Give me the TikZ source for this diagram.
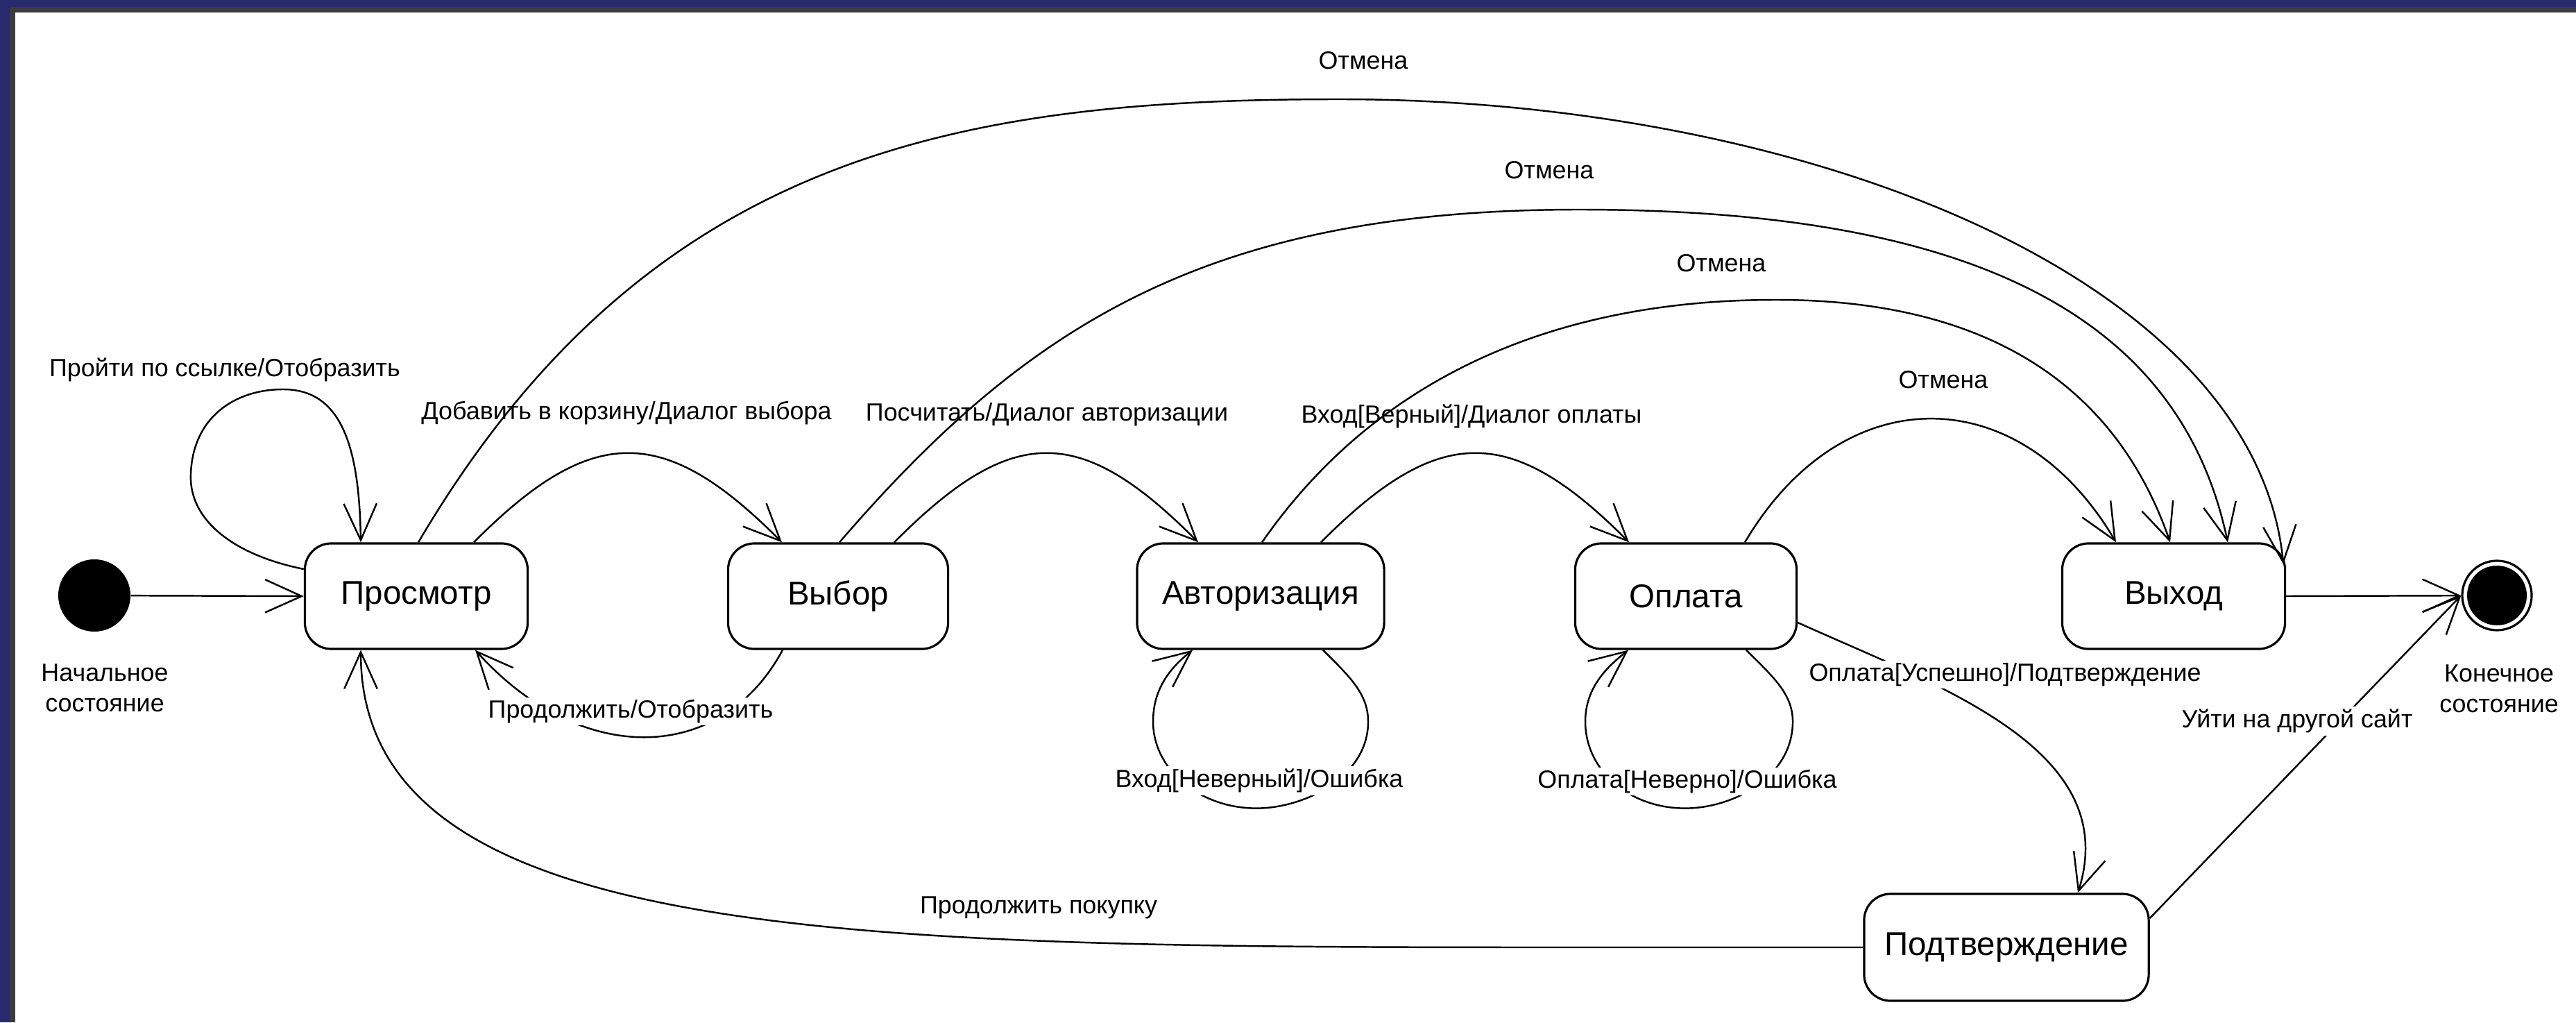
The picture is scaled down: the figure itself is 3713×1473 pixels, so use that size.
\documentclass[tikz,border=0pt]{standalone}
\usepackage{fontspec}
\setmainfont{Liberation Sans}
\usetikzlibrary{arrows.meta,calc}
\definecolor{navy}{RGB}{39,43,110}
\definecolor{frameline}{RGB}{60,60,60}
\tikzset{
  state/.style={draw, rounded corners=0.38cm, minimum height=1.52cm, line width=0.9pt,
    font=\fontsize{13.5}{16}\selectfont, inner sep=0pt},
  lbl/.style={font=\fontsize{10.2}{12.5}\selectfont, fill=white, inner sep=1pt},
  plainlbl/.style={font=\fontsize{10.2}{12.5}\selectfont, inner sep=1pt, align=center},
  tr/.style={line width=0.7pt, -{Straight Barb[length=15pt,width=13.5pt,line width=0.7pt]}},
}
\begin{document}
\begin{tikzpicture}[x=0.01cm, y=-0.01cm]
\useasboundingbox (0,0) rectangle (3713,1473);
% background and frame
\fill[white] (0,0) rectangle (3713,1473);
\fill[navy] (0,0) rectangle (3713,10);
\fill[navy] (0,0) rectangle (14,1473);
\draw[frameline, line width=2.2pt] (18,1473) -- (18,14) -- (3713,14);

% states
\node[circle, fill=black, minimum size=1.04cm, inner sep=0pt] (init) at (136,858) {};
\node[state, minimum width=3.21cm] (prosm) at (600,859) {Просмотр};
\node[state, minimum width=3.17cm] (vybor) at (1208,859) {Выбор};
\node[state, minimum width=3.56cm] (avtor) at (1817,859) {Авторизация};
\node[state, minimum width=3.19cm] (oplata) at (2430,859) {Оплата};
\node[state, minimum width=3.21cm] (vyhod) at (3133,859) {Выход};
\node[state, minimum width=4.10cm, minimum height=1.54cm] (podtv) at (2892,1365) {Подтверждение};
\node[circle, draw, line width=0.9pt, minimum size=1.0cm, inner sep=0pt] (fin) at (3599,858) {};
\fill (fin.center) circle[radius=0.43cm];

\node[plainlbl] (initlbl) at (151,991) {Начальное\\состояние};
\node[plainlbl] (finlbl) at (3602,992) {Конечное\\состояние};

% short transitions
\draw[tr] (init) -- (prosm.west);
\draw[tr] ($(prosm.west)+(0,-39)$) .. controls +(-100,-20) and +(-3,67) .. (275,683)
   .. controls +(3,-83) and +(-68,0) .. (408,561)
   .. controls +(82,0) and +(-2,-143) .. ($(prosm.north)+(-80,0)$);
\draw[tr] ($(prosm.north)+(83,0)$) .. controls +(170,-171) and +(-170,-171) .. ($(vybor.north)+(-81,0)$);
\draw[tr] ($(vybor.south)+(-80,0)$) .. controls +(-90,167) and +(150,167) .. ($(prosm.south)+(85,0)$);
\draw[tr] ($(vybor.north)+(81,0)$) .. controls +(170,-171) and +(-170,-171) .. ($(avtor.north)+(-90,0)$);
\draw[tr] ($(avtor.south)+(90,0)$) .. controls +(38,38) and +(0,-40) .. ($(avtor.south)+(155,103)$)
   .. controls +(0,80) and +(69,0) .. ($(avtor.south)+(-6,228)$)
   .. controls +(-81,0) and +(0,70) .. ($(avtor.south)+(-155,103)$)
   .. controls +(0,-50) and +(-29,23) .. ($(avtor.south)+(-98,0)$);
\draw[tr] ($(avtor.north)+(87,0)$) .. controls +(170,-171) and +(-170,-171) .. ($(oplata.north)+(-82,0)$);
\draw[tr] ($(oplata.south)+(87,0)$) .. controls +(38,38) and +(0,-40) .. ($(oplata.south)+(154,103)$)
   .. controls +(0,80) and +(69,0) .. ($(oplata.south)+(-1,228)$)
   .. controls +(-81,0) and +(0,70) .. ($(oplata.south)+(-145,103)$)
   .. controls +(0,-50) and +(-29,23) .. ($(oplata.south)+(-83,0)$);
\draw[tr] ($(oplata.north)+(85,0)$) .. controls +(140,-237) and +(-140,-237) .. ($(vyhod.north)+(-83,0)$);
\draw[tr] (vyhod.east) -- (fin);
\draw[tr] ($(oplata.east)+(0,38)$) .. controls +(206,93) and +(65,-207) .. ($(podtv.north)+(103,0)$);
\draw[tr] ($(podtv.east)+(0,-42)$) -- (fin.west);
\draw[tr] (podtv.west) -- ++(-372,0) .. controls +(-1065,0) and +(0,430) .. ($(prosm.south)+(-80,0)$);

% labels
\node[lbl] (l1) at (324,533) {Пройти по ссылке/Отобразить};
\node[lbl] (l2) at (903,595) {Добавить в корзину/Диалог выбора};
\node[lbl] (l3) at (1509,597) {Посчитать/Диалог авторизации};
\node[lbl] (l4) at (2121,600) {Вход[Верный]/Диалог оплаты};
\node[lbl] (l5) at (909,1025) {Продолжить/Отобразить};
\node[lbl] (l6) at (1815,1125) {Вход[Неверный]/Ошибка};
\node[lbl] (l7) at (2432,1126) {Оплата[Неверно]/Ошибка};
\node[lbl] (l8) at (2890,972) {Оплата[Успешно]/Подтверждение};
\node[lbl] (l9) at (3311,1039) {Уйти на другой сайт};
\node[lbl] (l10) at (1497,1308) {Продолжить покупку};
\node[lbl] (c1) at (2801,547) {Отмена};
\node[lbl] (c2) at (2481,379) {Отмена};
\node[lbl] (c3) at (2233,245) {Отмена};
\node[lbl] (c4) at (1965,87) {Отмена};

% long cancel transitions
\draw[tr] ($(avtor.north)+(2,0)$) .. controls +(160,-230) and +(-330,0) .. (2560,432)
   .. controls +(300,0) and +(-80,-230) .. ($(vyhod.north)+(-5,0)$);
\draw[tr] ($(vybor.north)+(2,0)$) .. controls +(270,-313) and +(-536,0) .. (2276,302)
   .. controls +(560,0) and +(-70,-330) .. ($(vyhod.north)+(78,0)$);
\draw[tr] ($(prosm.north)+(3,0)$) .. controls +(330,-560) and +(-550,0) .. (1930,143)
   .. controls +(670,0) and +(-40,-413) .. ($(vyhod.east)+(-4,-46)$);
\end{tikzpicture}
\end{document}
